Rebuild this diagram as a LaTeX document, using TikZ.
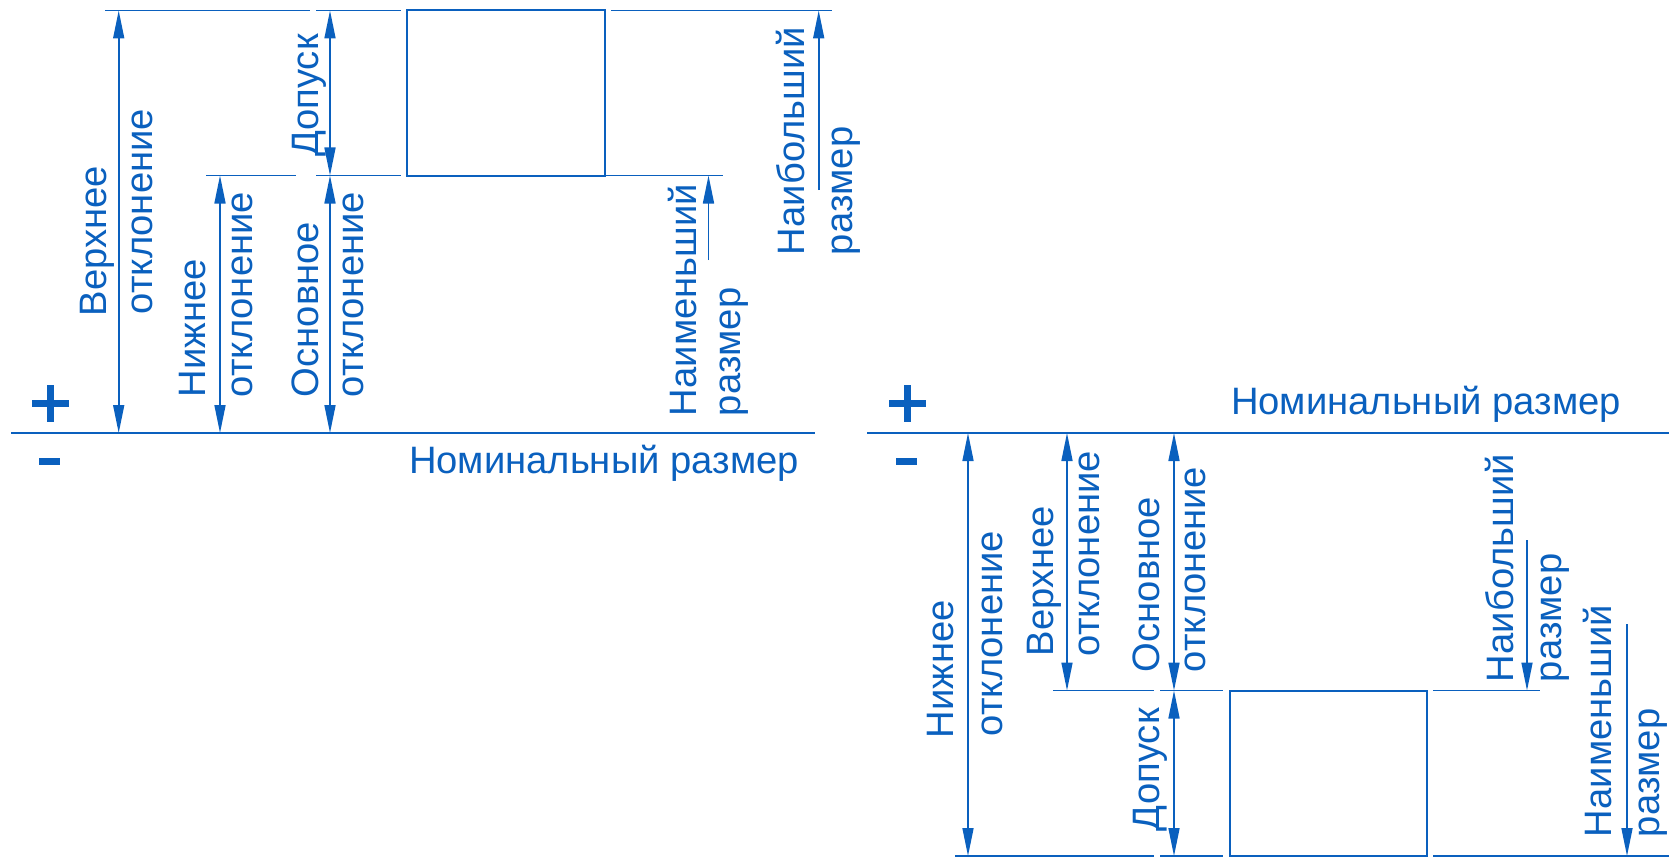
\documentclass[tikz,border=0pt]{standalone}
\usepackage{fontspec}
\setmainfont{Liberation Sans}
\usetikzlibrary{arrows.meta}
\definecolor{ink}{HTML}{0A60BE}
\tikzset{
  ext/.style={draw=ink,line width=1.8pt},
  base/.style={draw=ink,line width=1.6pt},
  part/.style={draw=ink,line width=2pt,inner sep=0pt,outer sep=0pt,anchor=north west},
  dim/.style={draw=ink,line width=1.6pt,-{Triangle[length=28pt,width=11pt]}},
  dimb/.style={draw=ink,line width=1.6pt,{Triangle[length=28pt,width=11pt]}-{Triangle[length=28pt,width=11pt]}},
  vlbl/.style={text=ink,inner sep=0pt,outer sep=0pt,rotate=90,anchor=base west,font=\fontsize{38.2}{38.2}\selectfont},
  hlbl/.style={text=ink,inner sep=0pt,outer sep=0pt,anchor=base west,font=\fontsize{38.2}{38.2}\selectfont},
  sign/.style={fill=ink,draw=none}
}
\begin{document}
\begin{tikzpicture}[x=1pt,y=-1pt]
\useasboundingbox (0,0) rectangle (1678,864);
% ---------- left diagram ----------
\node[part,minimum width=198pt,minimum height=165pt] (boxL) at (407,10.5) {};
\coordinate (L0a) at (11,433);   \coordinate (L0b) at (815,433);
\coordinate (LtA) at (105,10.5);   \coordinate (LtB) at (310,10.5);
\coordinate (LtC) at (316,10.5);   \coordinate (LtD) at (401,10.5);
\coordinate (LtE) at (611,10.5);   \coordinate (LtF) at (832,10.5);
\coordinate (LmA) at (206,175.5);  \coordinate (LmB) at (296,175.5);
\coordinate (LmC) at (316,175.5);  \coordinate (LmD) at (401,175.5);
\coordinate (LmE) at (605,175.5);  \coordinate (LmF) at (723,175.5);
\coordinate (LzA) at (105,433);  \coordinate (LzB) at (174,433);
\coordinate (LzC) at (206,433);  \coordinate (LzD) at (250,433);
\coordinate (LzE) at (316,433);  \coordinate (LzF) at (401,433);
\path[base] (L0a) -- (L0b);
\path[ext] (LtA) -- (LtB); \path[ext] (LtC) -- (LtD); \path[ext] (LtE) -- (LtF);
\path[ext] (LmA) -- (LmB); \path[ext] (LmC) -- (LmD); \path[ext] (LmE) -- (LmF);
\path[ext] (LzA) -- (LzB); \path[ext] (LzC) -- (LzD); \path[ext] (LzE) -- (LzF);
\coordinate (La1) at (118.7,10.5);  \coordinate (La2) at (118.7,433);
\coordinate (Lb1) at (220,175.5);   \coordinate (Lb2) at (220,433);
\coordinate (Lc1) at (330,10.5);    \coordinate (Lc2) at (330,175.5);
\coordinate (Lc3) at (330,433);
\coordinate (Ld1) at (708.5,175.5); \coordinate (Ld2) at (708.5,260);
\coordinate (Le1) at (818.7,10.5);  \coordinate (Le2) at (818.7,190);
\path[dimb] (La1) -- (La2);
\path[dimb] (Lb1) -- (Lb2);
\path[dimb] (Lc1) -- (Lc2);
\path[dimb] (Lc2) -- (Lc3);
\path[dim] (Ld2) -- (Ld1);
\path[dim] (Le2) -- (Le1);
\node[vlbl] (t1) at (106.5,316) {Верхнее};
\node[vlbl] (t2) at (152,314) {отклонение};
\node[vlbl] (t3) at (205.5,397) {Нижнее};
\node[vlbl] (t4) at (252,397) {отклонение};
\node[vlbl] (t5) at (318,397) {Основное};
\node[vlbl] (t6) at (363,397) {отклонение};
\node[vlbl] (t7) at (318,157) {Допуск};
\node[vlbl] (t8) at (696,416) {Наименьший};
\node[vlbl] (t9) at (740.5,416) {размер};
\node[vlbl] (t10) at (804,255) {Наибольший};
\node[vlbl] (t11) at (852,255) {размер};
\node[hlbl] (t12) at (409,473) {Номинальный размер};
\fill[sign] (31.5,399.5) rectangle (68.5,406.5);
\fill[sign] (46.5,385) rectangle (53.5,421.5);
\fill[sign] (39,458) rectangle (60,465);
% ---------- right diagram ----------
\node[part,minimum width=197pt,minimum height=165.5pt] (boxR) at (1230,690.5) {};
\coordinate (R0a) at (867,433);  \coordinate (R0b) at (1669,433);
\coordinate (RzA) at (955,433);  \coordinate (RzB) at (1058,433);
\coordinate (RzC) at (1055,433); \coordinate (RzD) at (1100,433);
\coordinate (RzE) at (1160,433); \coordinate (RzF) at (1223,433);
\coordinate (RmA) at (1053,690.5); \coordinate (RmB) at (1154,690.5);
\coordinate (RmC) at (1160,690.5); \coordinate (RmD) at (1223,690.5);
\coordinate (RmE) at (1433,690.5); \coordinate (RmF) at (1540,690.5);
\coordinate (RbA) at (955,856);    \coordinate (RbB) at (1154,856);
\coordinate (RbC) at (1160,856);   \coordinate (RbD) at (1223,856);
\coordinate (RbE) at (1433,856);   \coordinate (RbF) at (1669,856);
\path[base] (R0a) -- (R0b);
\path[ext] (RzA) -- (RzB); \path[ext] (RzC) -- (RzD); \path[ext] (RzE) -- (RzF);
\path[ext] (RmA) -- (RmB); \path[ext] (RmC) -- (RmD); \path[ext] (RmE) -- (RmF);
\path[ext] (RbA) -- (RbB); \path[ext] (RbC) -- (RbD); \path[ext] (RbE) -- (RbF);
\coordinate (Ra1) at (968,433);   \coordinate (Ra2) at (968,856);
\coordinate (Rb1) at (1067,433);  \coordinate (Rb2) at (1067,690.5);
\coordinate (Rc1) at (1174,433);  \coordinate (Rc2) at (1174,690.5);
\coordinate (Rc3) at (1174,856);
\coordinate (Rd1) at (1527,540);    \coordinate (Rd2) at (1527,690.5);
\coordinate (Re1) at (1627,624);    \coordinate (Re2) at (1627,856);
\path[dimb] (Ra1) -- (Ra2);
\path[dimb] (Rb1) -- (Rb2);
\path[dimb] (Rc1) -- (Rc2);
\path[dimb] (Rc2) -- (Rc3);
\path[dim] (Rd1) -- (Rd2);
\path[dim] (Re1) -- (Re2);
\node[vlbl] (u1) at (953.5,738) {Нижнее};
\node[vlbl] (u2) at (1002,736) {отклонение};
\node[vlbl] (u3) at (1053,656) {Верхнее};
\node[vlbl] (u4) at (1099,656) {отклонение};
\node[vlbl] (u5) at (1159,672) {Основное};
\node[vlbl] (u6) at (1205,672) {отклонение};
\node[vlbl] (u7) at (1159,831) {Допуск};
\node[vlbl] (u8) at (1513,682) {Наибольший};
\node[vlbl] (u9) at (1561,682) {размер};
\node[vlbl] (u10) at (1611,837) {Наименьший};
\node[vlbl] (u11) at (1659,837) {размер};
\node[hlbl] (u12) at (1231,414) {Номинальный размер};
\fill[sign] (888.5,399.5) rectangle (925.5,406.5);
\fill[sign] (903.5,385) rectangle (910.5,421.5);
\fill[sign] (896,458) rectangle (917,465);
\end{tikzpicture}
\end{document}
